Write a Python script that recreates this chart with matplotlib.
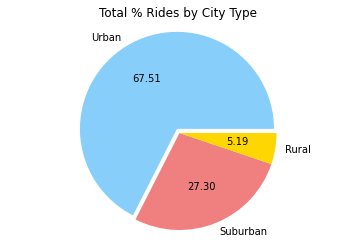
import matplotlib
matplotlib.use("Agg")
import matplotlib.pyplot as plt

city_types = ["Urban", "Suburban", "Rural"]
ride_pcts = [67.51, 27.30, 5.19]
colors = ["lightskyblue", "lightcoral", "gold"]
explode = [0.05, 0, 0]

dpi = 72
fig = plt.figure(figsize=(356 / dpi, 251 / dpi), dpi=dpi)
ax = fig.add_axes([0, 0, 1, 1])

# pie center / radius in pixels
cx, cy, r = 179.5, 133, 97
ax.pie(ride_pcts, labels=city_types, colors=colors, explode=explode,
       autopct="%.2f", startangle=0)
ax.set_xlim(-cx / r, (356 - cx) / r)
ax.set_ylim(-(251 - cy) / r, cy / r)
ax.set_axis_off()

fig.text(0.5, 1 - 13 / 251, "Total % Rides by City Type", ha="center",
         va="center", fontsize=12)

fig.savefig("out.png", dpi=dpi)
